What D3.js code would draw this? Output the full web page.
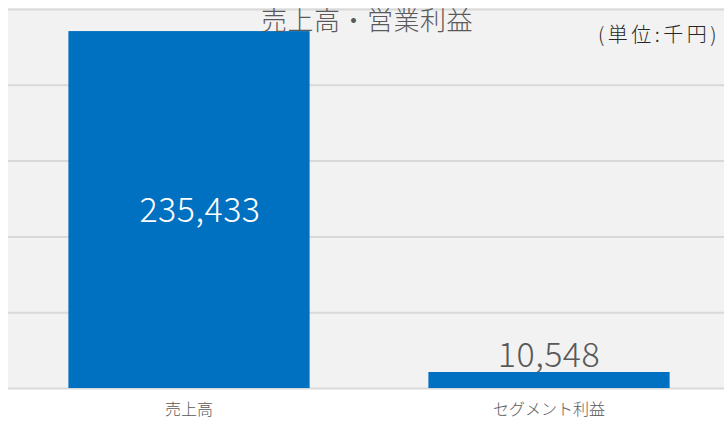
<!DOCTYPE html>
<html>
<head>
<meta charset="utf-8">
<script src="https://cdn.jsdelivr.net/npm/d3@7"></script>
<style>
  html, body { margin: 0; padding: 0; background: #ffffff; overflow: hidden; }
  svg { display: block; }
  text { font-family: "Noto Sans CJK JP", "Noto Sans", sans-serif; }
</style>
</head>
<body>
<svg id="chart" width="724" height="422"></svg>
<script>
// 売上高・営業利益 (単位:千円)
const categories = ["売上高", "セグメント利益"];
const values = [235433, 10548];
const yTicks = [0, 50000, 100000, 150000, 200000, 250000];
const titleText = "売上高・営業利益";
const unitText = "(単位:千円)";

const W = 724, H = 422;
const plot = { left: 8, right: 729, top: 9, bottom: 388 };

const svg = d3.select("#chart");

const x = d3.scaleBand()
  .domain(categories)
  .range([plot.left + 1, plot.right])
  .paddingInner(0.33)
  .paddingOuter(0.165);

const y = d3.scaleLinear()
  .domain([0, 250000])
  .range([plot.bottom, plot.top]);

// plot background
svg.append("rect")
  .attr("x", plot.left).attr("y", plot.top - 1)
  .attr("width", W - plot.left).attr("height", plot.bottom - plot.top + 2)
  .attr("fill", "#f2f2f2");

// horizontal gridlines
const yAxis = d3.axisLeft(y).tickValues(yTicks).tickSize(-(W - plot.left)).tickFormat("");
const gy = svg.append("g")
  .attr("transform", `translate(${plot.left},0)`)
  .call(yAxis);
gy.select(".domain").remove();
gy.selectAll(".tick line").attr("stroke", "#d9d9d9").attr("stroke-width", 2);

// bars
svg.append("g").selectAll("rect")
  .data(categories)
  .join("rect")
  .attr("x", d => x(d))
  .attr("width", x.bandwidth())
  .attr("y", (d, i) => y(values[i]))
  .attr("height", (d, i) => y(0) - y(values[i]))
  .attr("fill", "#0070c0");

// value labels
const fmt = d3.format(",");
svg.append("text")
  .attr("x", x(categories[0]) + x.bandwidth() / 2 + 11)
  .attr("y", (y(values[0]) + y(0)) / 2 + 12)
  .attr("text-anchor", "middle")
  .attr("font-size", 34)
  .attr("font-weight", 300)
  .attr("letter-spacing", 0.5)
  .attr("fill", "#ffffff")
  .text(fmt(values[0]));

svg.append("text")
  .attr("x", x(categories[1]) + x.bandwidth() / 2)
  .attr("y", y(values[1]) - 5)
  .attr("text-anchor", "middle")
  .attr("font-size", 34)
  .attr("font-weight", 300)
  .attr("letter-spacing", 0.5)
  .attr("fill", "#595959")
  .text(fmt(values[1]));

// category axis labels
const xAxis = d3.axisBottom(x).tickSize(0).tickPadding(0);
const gx = svg.append("g")
  .attr("transform", `translate(0,${plot.bottom})`)
  .call(xAxis);
gx.select(".domain").remove();
gx.selectAll(".tick text")
  .attr("dy", 0)
  .attr("y", 27)
  .attr("font-size", 16)
  .attr("font-weight", 300)
  .attr("fill", "#595959")
  .style("font-family", "\"Noto Sans CJK JP\", sans-serif");

// title
svg.append("text")
  .attr("x", 367)
  .attr("y", 30)
  .attr("text-anchor", "middle")
  .attr("font-size", 26)
  .attr("font-weight", 300)
  .attr("letter-spacing", 0.5)
  .attr("fill", "#595959")
  .text(titleText);

// unit note
svg.append("text")
  .attr("x", 598)
  .attr("y", 42)
  .attr("text-anchor", "start")
  .attr("font-size", 20)
  .attr("font-weight", 300)
  .attr("letter-spacing", 3.5)
  .attr("fill", "#262626")
  .text(unitText);
</script>
</body>
</html>
